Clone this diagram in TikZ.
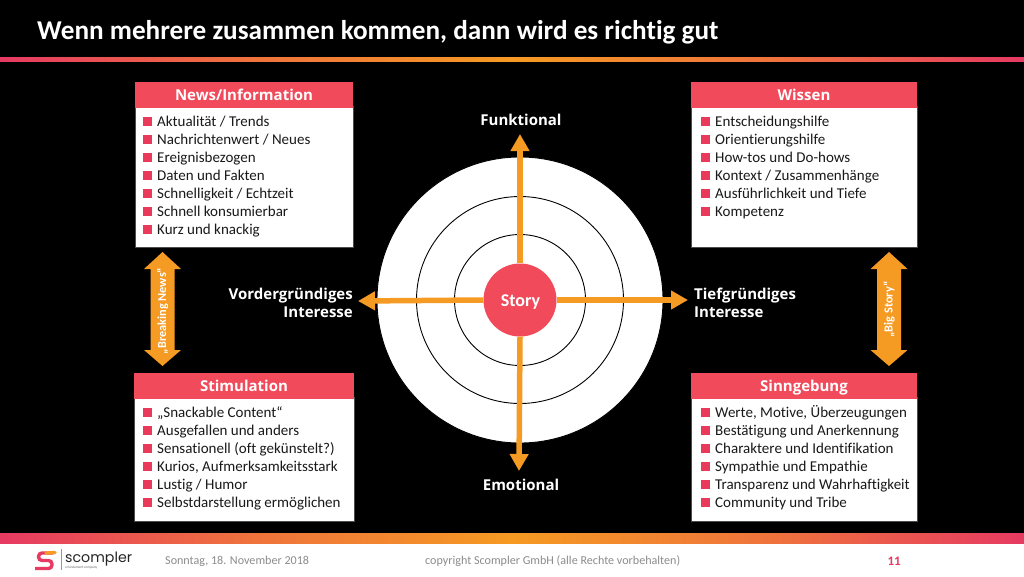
\documentclass[tikz,border=0pt]{standalone}
\usepackage{fontspec}
\setmainfont{Carlito}[Ligatures=NoCommon]
\newfontfamily\headfont{Open Sans}
\newfontfamily\logofont{Poppins}
\usetikzlibrary{arrows.meta}
\definecolor{rosered}{HTML}{F04A5B}
\definecolor{bulletred}{HTML}{E93A5C}
\definecolor{barred}{HTML}{E63A62}
\definecolor{barorange}{HTML}{F59A23}
\definecolor{arroworange}{HTML}{F59A23}
\tikzset{
  x=1pt,y=-1pt,
  headbox/.style={fill=rosered,minimum height=26pt,inner sep=0pt},
  headtext/.style={anchor=base,inner sep=0pt,text=white,font=\headfont\bfseries\fontsize{15}{16}\selectfont},
  bodybox/.style={fill=white,draw=black!70,line width=0.4pt,anchor=north west,inner sep=0pt},
  item/.style={anchor=base west,inner sep=0pt,text=black!90,font=\fontsize{15}{16}\selectfont},
  axislabel/.style={text=white,inner sep=0pt,font=\headfont\bfseries\fontsize{15}{18}\selectfont},
  ring/.style={draw=black,line width=0.9pt,fill=white,circle,inner sep=0pt},
  axisarrow/.style={draw=arroworange,line width=5.5pt,-{Triangle[length=17pt,width=18pt]}},
  bigarrow/.style={fill=arroworange,draw=none},
  arrowtext/.style={rotate=90,text=white,inner sep=0pt,font=\fontsize{12.3}{15}\selectfont\bfseries},
  foot/.style={text=black!45,inner sep=0pt,font=\fontsize{12.1}{14}\selectfont},
}
\newcommand{\panel}[6]{%
  \node[bodybox,minimum width=#5pt,minimum height=#4pt] (#1b) at (#2,#3+24) {};
  \node[headbox,minimum width=#5pt,anchor=north west] (#1h) at (#2,#3) {};
  \node[headtext] (#1t) at (#2+#5/2,#3+18) {#6};
}
\newcommand{\itemsat}[3]{%
  \foreach \t [count=\i from 0] in {#3} {
    \fill[bulletred] (#1,#2+18*\i-4.5) rectangle ++(9,9);
    \node[item] at (#1+14,#2+18*\i+5) {\t};
  }
}
\newcommand{\dblarrow}[1]{%
  \fill[bigarrow] (#1,252) -- (#1+18.5,269) -- (#1+12,269) -- (#1+12,350) -- (#1+18.5,350) -- (#1,366) -- (#1-18.5,350) -- (#1-12,350) -- (#1-12,269) -- (#1-18.5,269) -- cycle;
}
\begin{document}
\begin{tikzpicture}
\useasboundingbox (0,0) rectangle (1024,576);
\fill[black] (0,0) rectangle (1024,576);
\fill[white] (0,543) rectangle (1024,576);
\node[anchor=base west,text=white,inner sep=0pt,font=\bfseries\fontsize{27.2}{30}\selectfont] (title) at (37,39) {Wenn mehrere zusammen kommen, dann wird es richtig gut};
\shade[left color=barred,right color=barorange,middle color=barorange!60!barred] (0,57) rectangle (512,61);
\shade[left color=barorange,right color=barred,middle color=barorange!60!barred] (512,57) rectangle (1024,61);
\shade[left color=barred,right color=barorange,middle color=barorange!60!barred] (0,533) rectangle (512,543);
\shade[left color=barorange,right color=barred,middle color=barorange!60!barred] (512,533) rectangle (1024,543);
\panel{news}{135}{82}{141}{218}{News/Information}
\itemsat{143}{121}{Aktualität / Trends,Nachrichtenwert / Neues,Ereignisbezogen,Daten und Fakten,Schnelligkeit / Echtzeit,Schnell konsumierbar,Kurz und knackig}
\panel{wissen}{691}{82}{141}{226}{Wissen}
\itemsat{701}{121}{Entscheidungshilfe,Orientierungshilfe,How-tos und Do-hows,Kontext / Zusammenhänge,Ausführlichkeit und Tiefe,Kompetenz}
\panel{stim}{134}{373}{124}{220}{Stimulation}
\itemsat{143}{412}{„Snackable Content“,Ausgefallen und anders,Sensationell (oft gekünstelt?),{Kurios, Aufmerksamkeitsstark},Lustig / Humor,Selbstdarstellung ermöglichen}
\panel{sinn}{691}{373}{124}{226}{Sinngebung}
\itemsat{701}{412}{{Werte, Motive, Überzeugungen},Bestätigung und Anerkennung,Charaktere und Identifikation,Sympathie und Empathie,Transparenz und Wahrhaftigkeit,Community und Tribe}
\node[ring,minimum size=286pt] (r3) at (520,300) {};
\node[ring,minimum size=207pt] (r2) at (520,300) {};
\node[ring,minimum size=131pt] (r1) at (520,300) {};
\coordinate (tn) at (520,134);
\coordinate (ts) at (519,471);
\coordinate (tw) at (358,301);
\coordinate (te) at (688,300);
\node[fill=rosered,circle,minimum size=73pt,inner sep=0pt] (story) at (520,300) {};
\node[inner sep=0pt,text=white,font=\bfseries\fontsize{18}{20}\selectfont] (storyl) at (520.5,302) {Story};
\draw[axisarrow] (story.north) -- (tn);
\draw[axisarrow] (story.south) -- (ts);
\draw[axisarrow] (story.west) -- (tw);
\draw[axisarrow] (story.east) -- (te);
\node[axislabel] (fl) at (521,120) {Funktional};
\node[axislabel] (el) at (521,485) {Emotional};
\node[axislabel,anchor=east,align=right] (vl) at (353,303) {Vordergründiges\\Interesse};
\node[axislabel,anchor=west,align=left] (tl) at (694,303) {Tiefgründiges\\Interesse};
\dblarrow{162.5}
\node[arrowtext] (bnl) at (162.5,311) {„Breaking News“};
\dblarrow{889}
\node[arrowtext] (bsl) at (889,309.5) {„Big Story“};
% logo
\draw[barred,line width=3.4pt,rounded corners=3.5pt] (53,553) -- (38.5,553) -- (38.5,560.5) -- (52,560.5) -- (52,568.5) -- (35,568.5);
\draw[barorange,line width=3.4pt,line cap=round] (46,553) -- (55,552.5);
\draw[black!40,line width=0.4pt] (61,549) -- (61,570);
\node[anchor=west,inner sep=0pt,text=black!85,font=\logofont\fontsize{14.2}{18}\selectfont] (logo) at (65,559) {scompler};
\node[anchor=west,inner sep=0pt,text=black!60,font=\fontsize{3.5}{4}\selectfont] (logos) at (65,567.5) {a fundament company};
\node[foot,anchor=west] (date) at (165,561) {Sonntag, 18. November 2018};
\node[foot,anchor=west] (copy) at (425,561) {copyright Scompler GmbH (alle Rechte vorbehalten)};
\node[anchor=east,inner sep=0pt,text=barred,font=\bfseries\fontsize{13}{14}\selectfont] (pg) at (901,561) {11};
\end{tikzpicture}
\end{document}
